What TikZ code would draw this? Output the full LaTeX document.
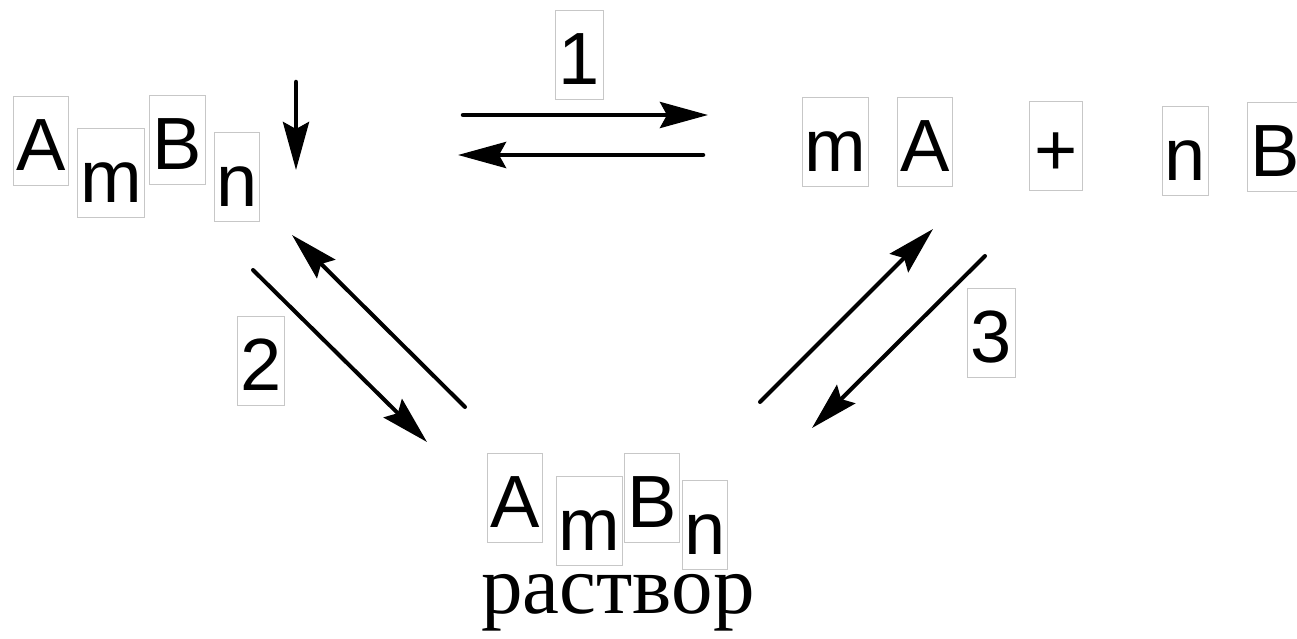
\documentclass[tikz,border=0pt]{standalone}
\usepackage{fontspec}
\setmainfont{Liberation Sans}
\newfontfamily\serifru{Liberation Serif}
\usetikzlibrary{arrows.meta}
\tikzset{
  lbl/.style={draw=black!22, line width=1pt, inner sep=0pt, text height=74pt, text depth=15pt,
    anchor=north west, font=\fontsize{74}{80}\selectfont},
  arr/.style={line width=4.5pt, line cap=round, -{Stealth[length=48pt, width=26pt, inset=7pt]}},
  darr/.style={arr, line width=4pt},
}
\begin{document}
\begin{tikzpicture}[x=1pt, y=-1pt]
\clip (0,0) rectangle (1297,639);
\fill[white] (0,0) rectangle (1297,639);
% left formula
\node[lbl, minimum width=55pt] (la) at (13,96) {A};
\node[lbl, minimum width=67pt] (lm) at (77,128) {m};
\node[lbl, minimum width=56pt] (lb) at (149,95) {B};
\node[lbl, minimum width=45pt] (ln) at (214,132) {n};
% right formula
\node[lbl, minimum width=66pt] (rm) at (802,97) {m};
\node[lbl, minimum width=55pt] (ra) at (897,97) {A};
\node[lbl, minimum width=53pt] (rp) at (1029,101) {+};
\node[lbl, minimum width=46pt] (rn) at (1162,106) {n};
\node[lbl, minimum width=56pt] (rb) at (1247,102) {B};
% bottom formula
\node[lbl, minimum width=55pt] (ba) at (487,453) {A};
\node[lbl, minimum width=66pt] (bm) at (556,476) {m};
\node[lbl, minimum width=55pt] (bb) at (624,453) {B};
\node[lbl, minimum width=45pt] (bn) at (682,480) {n};
\node[anchor=base, inner sep=0pt, font=\serifru\fontsize{83}{90}\selectfont] (sol) at (618,613) {раствор};
% digits
\node[lbl, minimum width=48pt] (d1) at (555,10) {1};
\node[lbl, minimum width=47pt] (d2) at (237,316) {2};
\node[lbl, minimum width=48pt] (d3) at (967,288) {3};
% arrow end points
\coordinate (a1s) at (463,115); \coordinate (a1e) at (708,115);
\coordinate (b1s) at (703,155); \coordinate (b1e) at (458,155);
\coordinate (dns) at (296,82);  \coordinate (dne) at (296,170);
\coordinate (a2s) at (253,270); \coordinate (a2e) at (427,442);
\coordinate (b2s) at (465,407); \coordinate (b2e) at (292,235);
\coordinate (a3s) at (760,402); \coordinate (a3e) at (933,229);
\coordinate (b3s) at (985,256); \coordinate (b3e) at (812,428);
\draw[arr] (a1s) -- (a1e);
\draw[arr] (b1s) -- (b1e);
\draw[arr] (dns) -- (dne);
\draw[darr] (a2s) -- (a2e);
\draw[darr] (b2s) -- (b2e);
\draw[darr] (a3s) -- (a3e);
\draw[darr] (b3s) -- (b3e);
\end{tikzpicture}
\end{document}
